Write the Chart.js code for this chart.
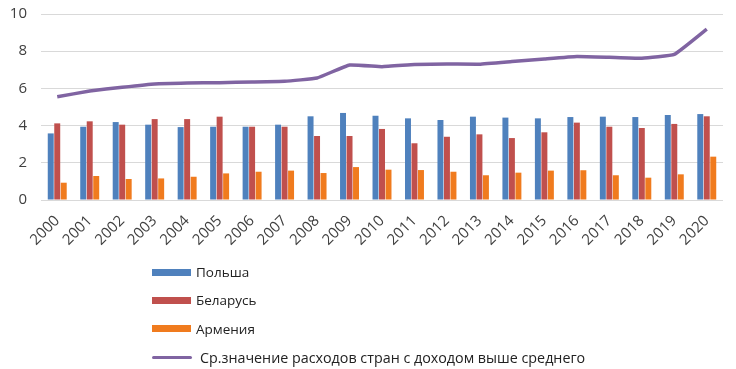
<!DOCTYPE html>
<html><head><meta charset="utf-8">
<script src="https://cdn.jsdelivr.net/npm/chart.js@4/dist/chart.umd.min.js"></script>
<style>
html,body{margin:0;padding:0;background:#fff;}
#wrap{position:relative;width:736px;height:369px;}
#legend{position:absolute;left:152px;top:258px;font-family:"Open Sans","Noto Sans",sans-serif;font-size:13.5px;color:#222;}
#legend .it{height:28.3px;display:flex;align-items:center;}
#legend .sw{display:inline-block;width:39px;height:7px;margin-right:5px;}
#legend .ln{display:inline-block;width:40px;height:3px;margin-right:8px;border-radius:2px;}
</style></head>
<body><div id="wrap"><canvas id="c" width="736" height="369"></canvas><div id="legend"></div></div>
<script>
const years = ["2000","2001","2002","2003","2004","2005","2006","2007","2008","2009","2010","2011","2012","2013","2014","2015","2016","2017","2018","2019","2020"];
const poland = [3.58,3.94,4.19,4.05,3.92,3.94,3.94,4.05,4.50,4.68,4.53,4.39,4.30,4.48,4.43,4.39,4.46,4.48,4.46,4.57,4.62];
const belarus = [4.12,4.23,4.05,4.35,4.35,4.48,3.94,3.94,3.44,3.44,3.82,3.05,3.40,3.53,3.33,3.64,4.16,3.94,3.87,4.09,4.50];
const armenia = [0.93,1.29,1.13,1.16,1.25,1.43,1.52,1.58,1.45,1.77,1.63,1.61,1.52,1.33,1.47,1.58,1.60,1.33,1.20,1.38,2.33];
const upperMiddle = [5.55,5.86,6.06,6.24,6.29,6.31,6.34,6.38,6.56,7.26,7.17,7.28,7.31,7.30,7.44,7.58,7.71,7.67,7.62,7.83,9.19];
const yTicks = [0,2,4,6,8,10];
const names = ["Польша","Беларусь","Армения","Ср.значение расходов стран с доходом выше среднего"];
const colors = ["#4F81BD","#C0504D","#F07B1E","#8064A2"];

const font = "'Open Sans','Noto Sans',sans-serif";
new Chart(document.getElementById('c'), {
  data: {
    labels: years,
    datasets: [
      {type:'line', label:names[3], data:upperMiddle, borderColor:colors[3], backgroundColor:colors[3], borderWidth:3.5, pointRadius:0, tension:0.1, order:0},
      {type:'bar', label:names[0], data:poland, backgroundColor:colors[0], categoryPercentage:0.6, barPercentage:0.92, order:1},
      {type:'bar', label:names[1], data:belarus, backgroundColor:colors[1], categoryPercentage:0.6, barPercentage:0.92, order:1},
      {type:'bar', label:names[2], data:armenia, backgroundColor:colors[2], categoryPercentage:0.6, barPercentage:0.92, order:1}
    ]
  },
  options: {
    responsive:false, animation:false,
    layout:{padding:{left:0,right:13,top:14,bottom:0}},
    plugins:{legend:{display:false}, tooltip:{enabled:false}},
    scales:{
      x:{
        grid:{display:false, drawTicks:false},
        border:{display:false},
        ticks:{color:'#404040', font:{family:font,size:15}, minRotation:45, maxRotation:45, padding:12},
        afterFit:(s)=>{s.height=169; s.paddingTop=0;}
      },
      y:{
        min:0,max:10,
        afterBuildTicks:(s)=>{s.ticks=yTicks.map(v=>({value:v}));},
        grid:{color:'#D9D9D9', drawTicks:false, lineWidth:1},
        border:{display:false},
        ticks:{color:'#404040', font:{family:font,size:15}, padding:14},
        afterFit:(s)=>{s.width=41; s.paddingTop=0; s.paddingBottom=0;}
      }
    }
  }
});
const lg = document.getElementById('legend');
[0,1,2].forEach(i=>{lg.insertAdjacentHTML('beforeend',`<div class="it"><span class="sw" style="background:${colors[i]}"></span>${names[i]}</div>`);});
lg.insertAdjacentHTML('beforeend',`<div class="it" style="font-size:14.3px"><span class="ln" style="background:${colors[3]}"></span>${names[3]}</div>`);
</script></body></html>
